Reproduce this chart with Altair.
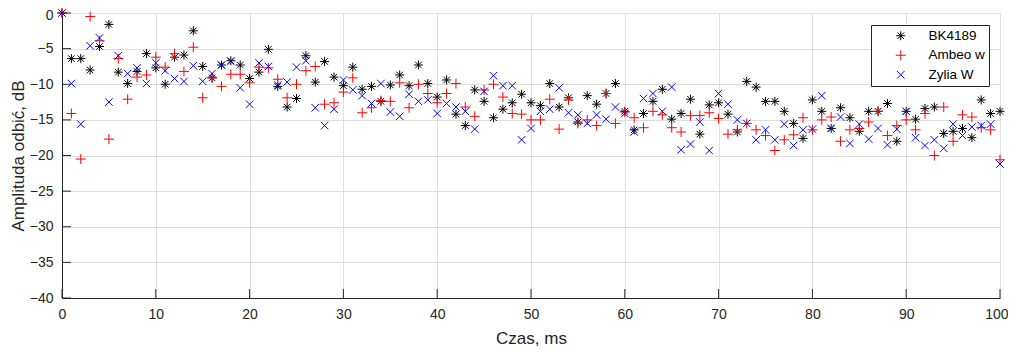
import altair as alt
import pandas as pd

series_names = ["BK4189", "Ambeo w", "Zylia W"]
series_colors = ["#000000", "#ff0000", "#0000ff"]
time_ms = list(range(101))

bk4189 = [0, -6.4, -6.4, -8.0, -4.7, -1.6, -8.3, -9.9, -8.2, -5.7,
          -7.7, -10.0, -6.2, -5.9, -2.5, -7.5, -9.1, -7.3, -6.7, -7.3,
          -9.2, -8.3, -5.1, -10.3, -13.2, -12.0, -6.0, -9.7, -6.8, -9.0,
          -10.2, -7.6, -10.7, -10.3, -12.4, -10.1, -8.7, -10.2, -7.3, -9.9,
          -11.8, -9.4, -14.2, -15.8, -10.8, -12.4, -14.7, -13.5, -12.6, -11.4,
          -12.6, -13.0, -9.9, -13.2, -11.9, -15.3, -11.6, -12.8, -11.3, -9.9,
          -13.8, -16.4, -14.1, -12.4, -10.7, -14.9, -14.1, -12.1, -17.0, -12.9,
          -12.6, -14.2, -16.7, -9.6, -10.4, -12.4, -12.4, -13.8, -15.5, -17.6,
          -12.2, -13.8, -16.2, -13.3, -14.7, -16.6, -13.8, -13.8, -12.7, -18.0,
          -13.8, -14.9, -13.4, -13.2, -16.9, -16.6, -16.2, -17.5, -12.2, -14.1,
          -13.8]

ambeo_w = [0, -14.1, -20.5, -0.5, -3.9, -17.7, -6.4, -12.1, -9.0, -8.7,
           -6.2, -7.6, -5.7, -8.2, -4.8, -11.9, -9.1, -10.3, -8.6, -8.6,
           -9.8, -7.6, -7.7, -9.3, -11.9, -10.0, -8.1, -7.5, -12.8, -12.6,
           -11.1, -9.1, -14.0, -13.3, -12.3, -12.4, -9.8, -13.3, -10.0, -11.3,
           -12.6, -11.3, -9.9, -13.2, -14.5, -10.8, -10.0, -11.8, -14.1, -14.2,
           -15.0, -15.0, -12.1, -16.3, -12.2, -15.5, -15.0, -15.8, -11.3, -15.5,
           -13.9, -14.7, -16.1, -13.8, -14.3, -16.1, -16.7, -14.4, -14.4, -14.0,
           -14.8, -17.0, -16.4, -15.5, -16.4, -17.2, -19.3, -17.8, -17.1, -14.7,
           -16.4, -15.0, -14.6, -18.0, -16.4, -16.2, -15.3, -13.8, -17.2, -15.8,
           -15.0, -16.4, -14.1, -20.0, -13.2, -18.0, -14.3, -14.6, -16.1, -16.4,
           -20.6]

zylia_w = [0, -9.9, -15.6, -4.6, -3.5, -12.5, -6.0, -8.5, -7.7, -9.9,
           -7.0, -8.1, -9.2, -9.6, -7.4, -9.6, -8.5, -7.3, -6.8, -10.5,
           -12.8, -7.0, -7.5, -10.1, -9.7, -7.6, -6.7, -13.3, -15.8, -13.5,
           -9.4, -10.8, -11.6, -12.7, -9.9, -13.9, -14.5, -11.4, -12.4, -12.2,
           -14.1, -12.7, -13.2, -13.8, -16.3, -11.0, -8.8, -10.2, -10.2, -17.8,
           -16.2, -13.8, -13.5, -10.5, -14.0, -14.3, -15.5, -14.3, -14.9, -13.2,
           -14.1, -16.7, -12.0, -11.3, -13.8, -10.4, -19.2, -18.4, -15.3, -19.3,
           -11.3, -12.8, -15.0, -15.5, -17.8, -16.4, -17.8, -15.6, -18.6, -16.4,
           -16.3, -11.6, -16.2, -14.6, -18.3, -15.6, -17.7, -16.2, -18.5, -16.3,
           -13.8, -17.5, -18.6, -17.8, -19.0, -15.6, -17.2, -16.0, -15.8, -15.6,
           -21.2]

x_ticks = [0, 10, 20, 30, 40, 50, 60, 70, 80, 90, 100]
y_ticks = [0, -5, -10, -15, -20, -25, -30, -35, -40]

# marker glyphs (MATLAB-like '*', '+', 'x')
marker_paths = [
    "M-0.9,0L0.9,0M0,-0.9L0,0.9M-0.65,-0.65L0.65,0.65M-0.65,0.65L0.65,-0.65",
    "M-1,0L1,0M0,-1L0,1",
    "M-0.75,-0.75L0.75,0.75M-0.75,0.75L0.75,-0.75",
]

rows = []
for name, vals in zip(series_names, [bk4189, ambeo_w, zylia_w]):
    for t, v in zip(time_ms, vals):
        rows.append({"t": t, "v": v, "series": name})
df = pd.DataFrame(rows)

W, H = 938, 285
INK = "#262626"

x_enc = alt.X("t:Q", title="Czas, ms",
              scale=alt.Scale(domain=[0, 100], nice=False, zero=False),
              axis=alt.Axis(values=x_ticks, grid=True, labelPadding=9, labelFlush=False,
                            labelAlign={"condition": {"test": "datum.value === 100", "value": "right"},
                                        "value": "center"},
                            labelOffset={"condition": {"test": "datum.value === 100", "value": 8},
                                         "value": 0},
                            titleX=W / 2, titleY=40, titleBaseline="middle"))
y_enc = alt.Y("v:Q", title="Amplituda odbić, dB",
              scale=alt.Scale(domain=[-40, 0], nice=False, zero=False),
              axis=alt.Axis(values=y_ticks, grid=True, labelPadding=9, labelFlush=False,
                            labelOffset={"condition": {"test": "datum.value === 0", "value": 2},
                                         "value": 0},
                            titleX=-44, titleY=H / 2, titleBaseline="middle"))

points = alt.Chart(df).mark_point(filled=False, strokeWidth=1, opacity=1, size=100, clip=False).encode(
    x=x_enc,
    y=y_enc,
    color=alt.Color("series:N", title=None,
                    scale=alt.Scale(domain=series_names, range=series_colors)),
    shape=alt.Shape("series:N", title=None,
                    scale=alt.Scale(domain=series_names, range=marker_paths)),
)

ytick_rules = alt.Chart(pd.DataFrame({"v": y_ticks})).mark_rule(color=INK, strokeWidth=1).encode(
    y=y_enc, x=alt.value(0), x2=alt.value(9)
)
xtick_rules = alt.Chart(pd.DataFrame({"t": x_ticks})).mark_rule(color=INK, strokeWidth=1).encode(
    x=x_enc, y=alt.value(H), y2=alt.value(H - 9)
)

chart = alt.layer(ytick_rules, xtick_rules, points).properties(
    width=W, height=H,
    autosize=alt.AutoSizeParams(type="none"),
    padding={"left": 54, "top": 5, "right": 8, "bottom": 50},
).configure_view(stroke=None).configure_axis(
    labelFont="Liberation Sans", titleFont="Liberation Sans",
    labelFontSize=14, titleFontSize=17, titleFontWeight="normal",
    labelColor=INK, titleColor=INK,
    domainColor=INK, domainWidth=1, gridColor="#dfdfdf", gridWidth=1,
    tickSize=0,
).configure_legend(
    orient="none", legendX=809, legendY=12,
    padding=4, strokeColor=INK, fillColor="white",
    labelFont="Liberation Sans", labelFontSize=13.5, labelColor="#000000",
    symbolSize=100, symbolStrokeWidth=1, symbolOffset=19, labelOffset=21,
    rowPadding=4.5,
)

chart.save("out.html", embed_options={"renderer": "svg", "actions": False})
